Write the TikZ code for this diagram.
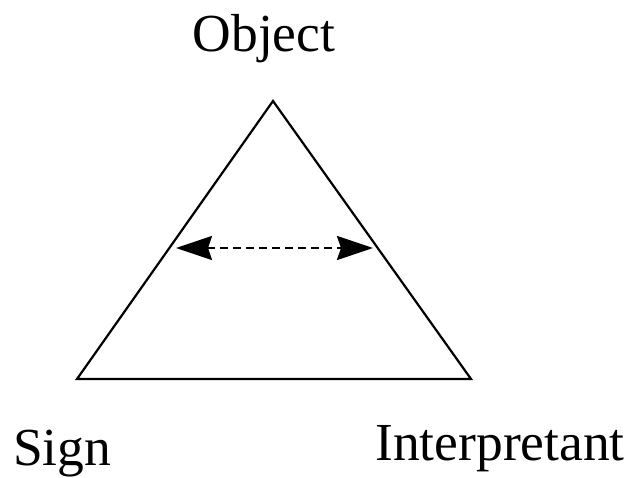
\documentclass[tikz,border=0pt]{standalone}
\usepackage{fontspec}
\setmainfont{Liberation Serif}
\usetikzlibrary{arrows.meta}
\begin{document}
\begin{tikzpicture}[x=1pt,y=-1pt,
  lab/.style={font=\fontsize{53.5}{56}\selectfont, inner sep=0pt, anchor=base},
  edge/.style={line width=2.2pt, line join=miter},
  dbl/.style={line width=2.4pt, dash pattern=on 8pt off 5pt, {Stealth[length=36pt,width=24pt,inset=4pt]}-{Stealth[length=36pt,width=24pt,inset=4pt]}}]
\useasboundingbox (0,0) rectangle (631,478);
\coordinate (top) at (273,101);
\coordinate (bl) at (77,379);
\coordinate (br) at (471,379);
\draw[edge] (top) -- (bl) -- (br) -- cycle;
\coordinate (al) at (176,248);
\coordinate (ar) at (373,248);
\draw[dbl] (al) -- (ar);
\node[lab] (obj) at (264,52) {Object};
\node[lab, anchor=base west] (sign) at (13,465) {Sign};
\node[lab, anchor=base east] (interp) at (625,460) {Interpretant};
\end{tikzpicture}
\end{document}
